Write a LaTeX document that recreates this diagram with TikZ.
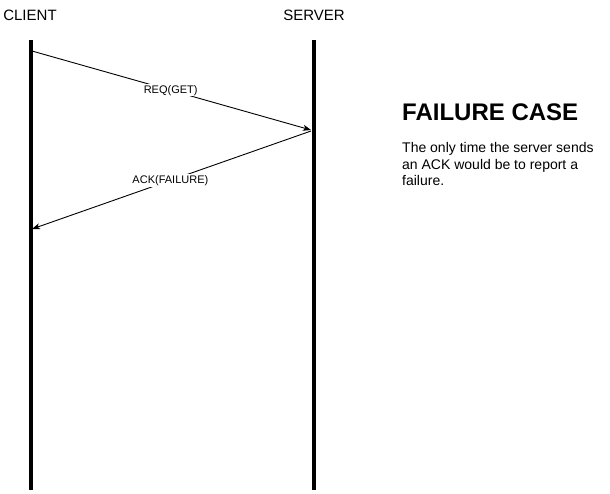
\documentclass[tikz,border=0pt]{standalone}
\usepackage{fontspec}
\setmainfont{Liberation Sans}
\usetikzlibrary{arrows.meta}
\begin{document}
\begin{tikzpicture}[x=1pt,y=-1pt,
  lifeline/.style={line width=4pt},
  msg/.style={line width=0.9pt,-{Stealth[length=8pt,width=6pt,inset=2pt]}},
  msglabel/.style={fill=white,inner sep=1pt,font=\fontsize{11}{13}\selectfont},
  actor/.style={font=\fontsize{15}{18}\selectfont,inner sep=0pt},
  title/.style={font=\bfseries\fontsize{24}{28}\selectfont,inner sep=0pt,anchor=base west},
  body/.style={font=\fontsize{14}{16.5}\selectfont,inner sep=0pt,anchor=north west,align=left}]
\useasboundingbox (0,0) rectangle (610,493);
\node[actor] (client) at (30,15) {CLIENT};
\node[actor] (server) at (314,15) {SERVER};
\coordinate (cTop) at (31,40);
\coordinate (cBot) at (31,490);
\coordinate (sTop) at (314,40);
\coordinate (sBot) at (314,490);
\draw[lifeline] (cTop) -- (cBot);
\draw[lifeline] (sTop) -- (sBot);
\coordinate (reqA) at (32,51);
\coordinate (reqB) at (311,130);
\coordinate (ackA) at (311,131);
\coordinate (ackB) at (32,229);
\draw[msg] (reqA) -- node[msglabel,pos=0.497] (req) {REQ(GET)} (reqB);
\draw[msg] (ackA) -- node[msglabel,pos=0.504] (ack) {ACK(FAILURE)} (ackB);
\node[title] (ttl) at (402,120.5) {FAILURE CASE};
\node[body] (txt) at (402,142.5) {The only time the server sends\\an ACK would be to report a\\failure.};
\end{tikzpicture}
\end{document}
